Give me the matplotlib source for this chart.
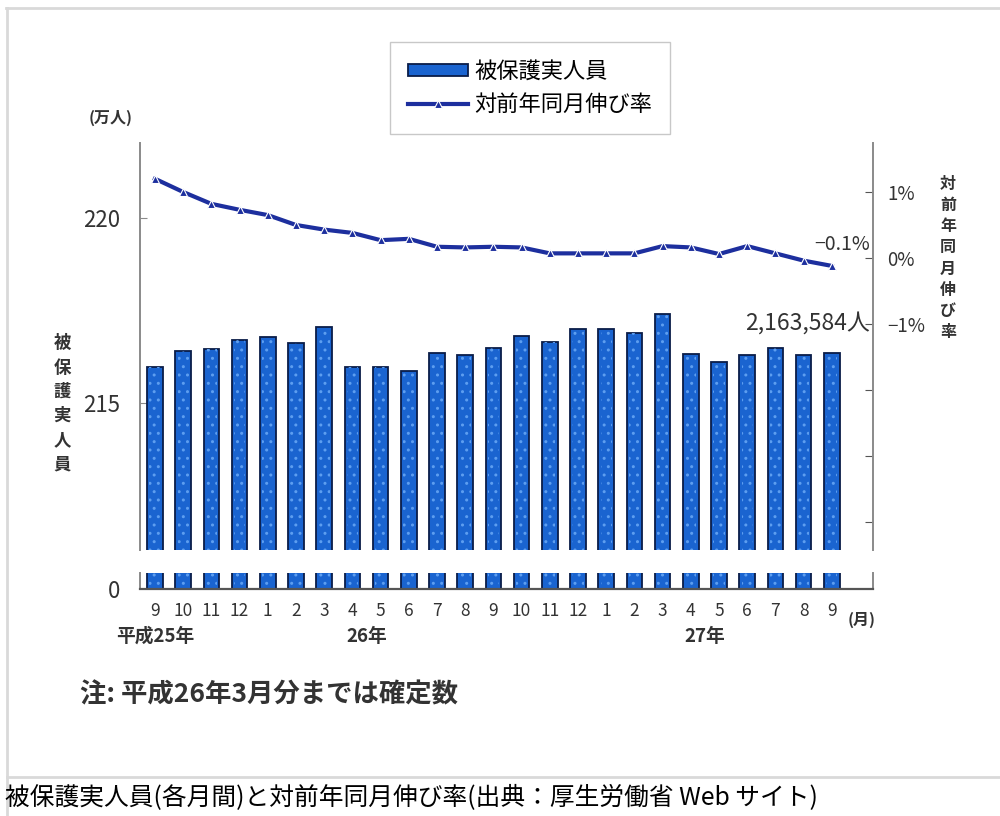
import matplotlib
matplotlib.use('Agg')
import matplotlib.pyplot as plt
import matplotlib.transforms as mtransforms
from matplotlib.lines import Line2D
from matplotlib.patches import Patch
import numpy as np

plt.rcParams['font.family'] = ['Noto Sans CJK JP', 'DejaVu Sans']

# ---------------- data ----------------
months = ['9', '10', '11', '12', '1', '2', '3', '4', '5', '6', '7', '8',
          '9', '10', '11', '12', '1', '2', '3', '4', '5', '6', '7', '8', '9']
# 被保護実人員 (万人)
recipients = [215.97, 216.41, 216.47, 216.70, 216.78, 216.62, 217.07, 215.97,
              215.97, 215.86, 216.36, 216.30, 216.48, 216.82, 216.66, 217.00,
              217.00, 216.89, 217.41, 216.32, 216.12, 216.29, 216.50, 216.31,
              216.36]
# 対前年同月伸び率 (%)
growth = [1.20, 1.00, 0.82, 0.73, 0.65, 0.50, 0.43, 0.38, 0.27, 0.29, 0.17,
          0.16, 0.17, 0.16, 0.07, 0.07, 0.07, 0.07, 0.18, 0.16, 0.06, 0.18,
          0.07, -0.04, -0.12]
latest_count = 2163584
year_labels = ['平成25年', '26年', '27年']
year_pos = [0, 7.5, 19.5]
left_ticks = [215, 220]
right_ticks = [1, 0, -1, -2, -3, -4]
right_ticklabels = ['1%', '0%', '−1%', '', '', '']

# ---------------- layout ----------------
W, H = 1000, 816
fig = plt.figure(figsize=(W / 100, H / 100), dpi=100)


def fx(px):
    return px / W


def fy(py):
    return 1 - py / H


x = np.arange(len(months))
xlim = (-0.53, 25.46)
bar_face = '#1a64d0'
bar_edge = '#0a1c48'
line_col = '#1d2f9e'
spine_col = '#8a8a8a'
txt_col = '#333333'

ax = fig.add_axes([fx(140), fy(550), fx(873 - 140), (550 - 143) / H])
ax2 = ax.twinx()
axb = fig.add_axes([fx(140), fy(589), fx(873 - 140), (589 - 573) / H])

for a in (ax, axb):
    a.bar(x, recipients, width=0.55, color=bar_face, edgecolor=bar_edge,
          linewidth=1.3, zorder=2)
    a.bar(x, recipients, width=0.4, fill=False, hatch='..',
          edgecolor='#5d9ef0', linewidth=0, zorder=3)
    a.set_xlim(*xlim)

ax.set_ylim(211.03, 222.03)
ax2.set_ylim(-4.424, 1.742)
axb.set_ylim(0, 1)

ax2.plot(x, growth, color=line_col, lw=3, marker='^', ms=6,
         mfc=line_col, mec='white', mew=0.8, zorder=4)

# spines
for s in ('top', 'bottom', 'right'):
    ax.spines[s].set_visible(False)
for s in ('top', 'bottom', 'left'):
    ax2.spines[s].set_visible(False)
ax.spines['left'].set_color(spine_col)
ax.spines['left'].set_linewidth(1.4)
ax2.spines['right'].set_color(spine_col)
ax2.spines['right'].set_linewidth(1.4)
axb.spines['top'].set_visible(False)
for s in ('left', 'right'):
    axb.spines[s].set_color(spine_col)
    axb.spines[s].set_linewidth(1.4)
axb.spines['bottom'].set_color('#555555')
axb.spines['bottom'].set_linewidth(1.6)

ax.set_xticks([])
ax.set_yticks(left_ticks)
ax.set_yticklabels([str(v) for v in left_ticks])
ax.tick_params(axis='y', direction='in', length=5, color=spine_col,
               labelsize=16, pad=14, labelcolor=txt_col)
ax2.set_yticks(right_ticks)
ax2.set_yticklabels(right_ticklabels)
ax2.tick_params(axis='y', direction='in', length=6, color='#555555',
                labelsize=13.5, pad=10, labelcolor=txt_col)

axb.set_xticks(x)
axb.set_xticklabels(months)
axb.tick_params(axis='x', length=0, labelsize=12.5, pad=9, labelcolor=txt_col)
axb.set_yticks([0])
axb.set_yticklabels(['0'])
axb.tick_params(axis='y', length=0, labelsize=16, pad=14, labelcolor=txt_col)

# year labels
tr = mtransforms.blended_transform_factory(axb.transData, fig.transFigure)
for p, lab in zip(year_pos, year_labels):
    axb.text(p, fy(636), lab, transform=tr, ha='center', va='center',
             fontsize=13.5, fontweight='bold', color=txt_col)

fig.text(fx(862), fy(620), '(月)', ha='center', va='center', fontsize=11.5,
         fontweight='bold', color=txt_col)
fig.text(fx(111), fy(118), '(万人)', ha='center', va='center', fontsize=11.5,
         fontweight='bold', color=txt_col)
fig.text(fx(62), fy(404), '\n'.join('被保護実人員'), ha='center', va='center',
         fontsize=12.5, linespacing=1.45, fontweight='bold', color=txt_col)
fig.text(fx(948), fy(258), '\n'.join('対前年同月伸び率'), ha='center',
         va='center', fontsize=11.5, linespacing=1.4, fontweight='bold',
         color=txt_col)

# annotations
ax2.text(25.35, growth[-1] + 0.33, f"{growth[-1]:.1f}%".replace('-', '−'),
         ha='right', va='center', fontsize=14, color=txt_col)
ax.text(25.35, recipients[-1] + 0.8, f"{latest_count:,}人", ha='right',
        va='center', fontsize=16.5, color=txt_col)

# legend
handles = [Patch(facecolor=bar_face, edgecolor=bar_edge, linewidth=1.3),
           Line2D([], [], color=line_col, lw=3, marker='^', ms=6,
                  mfc=line_col, mec='white', mew=0.8)]
fig.legend(handles, ['被保護実人員', '対前年同月伸び率'], loc='upper center',
           bbox_to_anchor=(fx(530), fy(42)), borderaxespad=0,
           frameon=True, fancybox=False, edgecolor='#bbbbbb', fontsize=16,
           handlelength=2.7, handleheight=0.5, borderpad=0.8,
           labelspacing=0.45, handletextpad=0.3)

fig.text(fx(80), fy(695), '注: 平成26年3月分までは確定数', ha='left',
         va='center', fontsize=19, fontweight='bold', color=txt_col)

# frame lines
for xs, ys in (([fx(7), fx(7)], [fy(8), 0]),
               ([fx(6), 1], [fy(8), fy(8)]),
               ([fx(7), 1], [fy(777), fy(777)])):
    fig.add_artist(Line2D(xs, ys, color='#d9d9d9', lw=2,
                          transform=fig.transFigure))

fig.text(fx(5), fy(798),
         '被保護実人員(各月間)と対前年同月伸び率(出典：厚生労働省 Web サイト)',
         ha='left', va='center', fontsize=17.8, color='black')

fig.savefig('out.png', dpi=100)
